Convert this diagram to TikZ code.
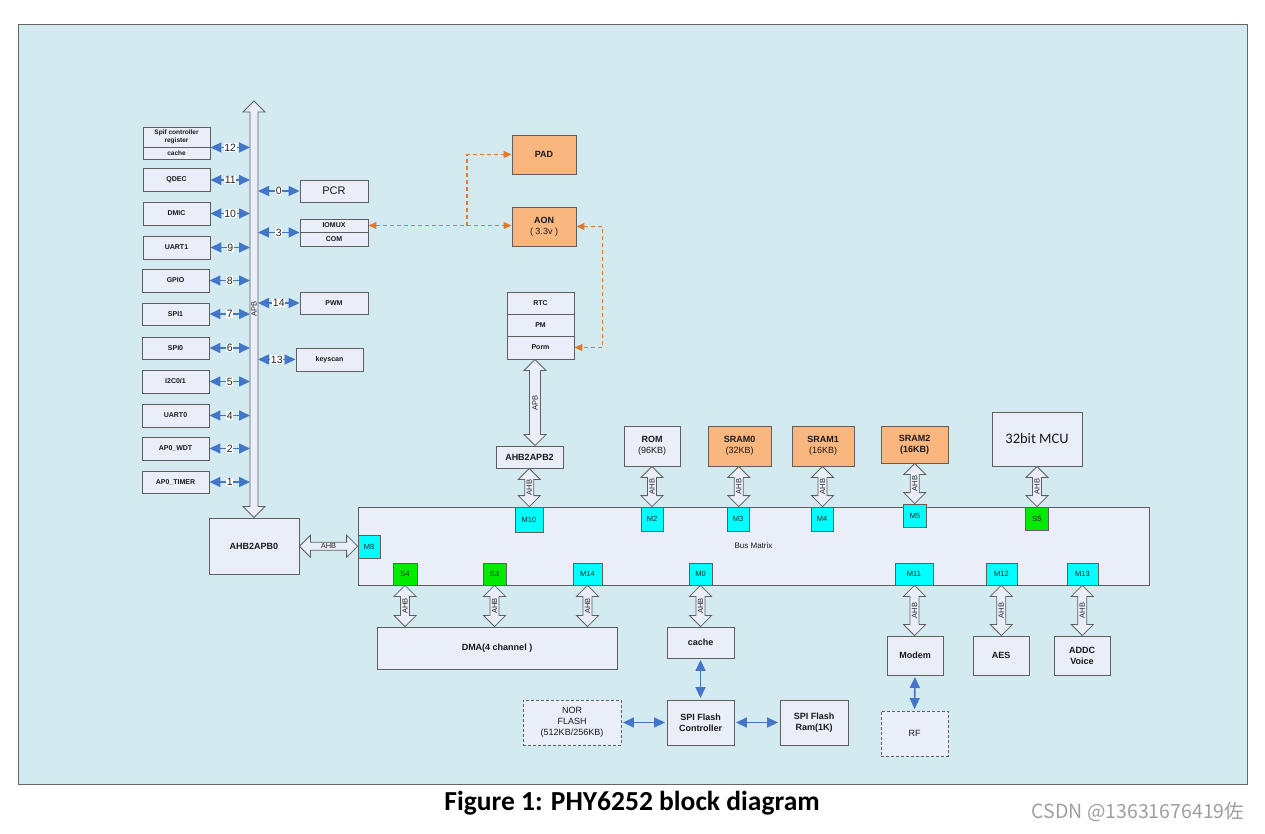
\documentclass[tikz,border=0pt]{standalone}
\usepackage{fontspec}
\setmainfont{Liberation Sans}
\newfontfamily\capfont{Carlito}
\newfontfamily\cjkfont{Noto Sans CJK SC}
\usetikzlibrary{arrows.meta,calc}

\definecolor{panelbg}{RGB}{211,234,240}
\definecolor{boxfill}{RGB}{233,238,248}
\definecolor{boxline}{RGB}{95,95,95}
\definecolor{memorange}{RGB}{249,182,127}
\definecolor{portcyan}{RGB}{0,255,255}
\definecolor{portgreen}{RGB}{0,235,0}
\definecolor{linkblue}{RGB}{68,118,200}
\definecolor{dashorange}{RGB}{224,122,48}

% hollow double arrows (AHB / APB), vertical and horizontal
\newcommand{\ahbv}[4][4.5pt]{%
  \path[hollow] let \p1=(#2), \p2=(#3) in
    ({(\x1+\x2)/2},\y1) -- ++(11pt,-11pt) -- ++({-11pt+#1},0pt)
    -- ({(\x1+\x2)/2+#1},{\y2+11pt}) -- ++({11pt-#1},0pt)
    -- ({(\x1+\x2)/2},\y2) -- ++(-11pt,11pt) -- ++({11pt-#1},0pt)
    -- ({(\x1+\x2)/2-#1},{\y1-11pt}) -- ++({-11pt+#1},0pt) -- cycle
    ({(\x1+\x2)/2},{(\y1+\y2)/2}) node[rotate=90, busfont] {#4};
}
\newcommand{\ahbh}[4][4pt]{%
  \path[hollow] let \p1=(#2), \p2=(#3) in
    (\x1,{(\y1+\y2)/2}) -- ++(11pt,11pt) -- ++(0pt,{-11pt+#1})
    -- ({\x2-11pt},{(\y1+\y2)/2+#1}) -- ++(0pt,{11pt-#1})
    -- (\x2,{(\y1+\y2)/2}) -- ++(-11pt,-11pt) -- ++(0pt,{11pt-#1})
    -- ({\x1+11pt},{(\y1+\y2)/2-#1}) -- ++(0pt,{-11pt+#1}) -- cycle
    ({(\x1+\x2)/2},{(\y1+\y2)/2}) node[busfont] {#4};
}

\begin{document}
\begin{tikzpicture}[x=1pt, y=-1pt, >={Triangle[length=11pt,width=10pt]},
  wh/.style 2 args={minimum width=#1pt, minimum height=#2pt},
  blk/.style={draw=boxline, fill=boxfill, line width=0.9pt, inner sep=0pt, align=center,
    text=black!90, font=\bfseries\fontsize{7}{8}\selectfont},
  mem/.style={blk, fill=memorange, font=\fontsize{9}{11}\selectfont},
  port/.style={draw=boxline, fill=portcyan, line width=0.8pt, inner sep=0pt,
    text=black!85, font=\fontsize{7.5}{8}\selectfont},
  sport/.style={port, fill=portgreen},
  ext/.style={blk, dashed, dash pattern=on 3pt off 2pt, font=\fontsize{9}{11}\selectfont},
  blink/.style={<->, draw=linkblue, line width=1.6pt},
  odash/.style={draw=dashorange, line width=1.1pt, dash pattern=on 4pt off 3pt,
    >={Triangle[length=8pt,width=7pt]}},
  num/.style={fill=white, inner sep=0.7pt, text=black!85, font=\fontsize{10.5}{10.5}\selectfont},
  hollow/.style={draw=boxline, fill=boxfill, line width=0.8pt},
  busfont/.style={inner sep=0.5pt, text=black!85, font=\fontsize{7.5}{7.5}\selectfont}]
  \useasboundingbox (0,0) rectangle (1265,833);
  \draw[draw=gray!80!black, fill=panelbg, line width=1pt] (18,24) rectangle (1247,784);

  % APB peripherals, left column
  \node[blk, wh={67}{20}, font=\bfseries\fontsize{6.5}{7.5}\selectfont] (spifreg) at (176.5,137) {Spif controller\\register};
  \node[blk, wh={67}{12}, font=\bfseries\fontsize{6.5}{7.5}\selectfont] (spifcache) at (176.5,153) {cache};
  \node[blk, wh={67}{23}] (qdec) at (176.5,180) {QDEC};
  \node[blk, wh={67}{23}] (dmic) at (176.5,213.5) {DMIC};
  \node[blk, wh={67}{23}] (uart1) at (176.5,247.5) {UART1};
  \node[blk, wh={67}{23}] (gpio) at (175.5,280.5) {GPIO};
  \node[blk, wh={67}{22}] (spi1) at (175.5,314) {SPI1};
  \node[blk, wh={67}{22}] (spi0) at (175.5,348) {SPI0};
  \node[blk, wh={67}{23}] (iic) at (175.5,381.5) {I2C0/1};
  \node[blk, wh={67}{23}] (uart0) at (175.5,415.5) {UART0};
  \node[blk, wh={67}{23}] (wdt) at (175.5,448.5) {AP0\_WDT};
  \node[blk, wh={67}{22}] (timer) at (175.5,482) {AP0\_TIMER};

  % APB peripherals, right of the bus
  \node[blk, wh={68}{22}, font=\fontsize{11}{11}\selectfont] (pcr) at (334,191) {PCR};
  \node[blk, wh={68}{13}] (iomux) at (334,225.5) {IOMUX};
  \node[blk, wh={68}{14}] (com) at (334,239) {COM};
  \node[blk, wh={68}{22}] (pwm) at (334,303) {PWM};
  \node[blk, wh={67}{23}] (keyscan) at (329.5,359.5) {keyscan};

  \node[blk, wh={90}{56}, font=\bfseries\fontsize{9}{10}\selectfont] (ahb2apb0) at (254,546) {AHB2APB0};

  % APB bus
  \coordinate (apbtip) at (254,101);
  \coordinate (busL) at (250,300);
  \coordinate (busR) at (258,300);
  \ahbv[4pt]{apbtip}{ahb2apb0.north}{APB}

  \draw[blink] (spifreg.south east) -- (spifreg.south east -| busL) node[midway,num] {12};
  \draw[blink] (qdec.east) -- (qdec.east -| busL) node[midway,num] {11};
  \draw[blink] (dmic.east) -- (dmic.east -| busL) node[midway,num] {10};
  \draw[blink] (uart1.east) -- (uart1.east -| busL) node[midway,num] {9};
  \draw[blink] (gpio.east) -- (gpio.east -| busL) node[midway,num] {8};
  \draw[blink] (spi1.east) -- (spi1.east -| busL) node[midway,num] {7};
  \draw[blink] (spi0.east) -- (spi0.east -| busL) node[midway,num] {6};
  \draw[blink] (iic.east) -- (iic.east -| busL) node[midway,num] {5};
  \draw[blink] (uart0.east) -- (uart0.east -| busL) node[midway,num] {4};
  \draw[blink] (wdt.east) -- (wdt.east -| busL) node[midway,num] {2};
  \draw[blink] (timer.east) -- (timer.east -| busL) node[midway,num] {1};

  \draw[blink] (pcr.west -| busR) -- (pcr.west) node[midway,num] {0};
  \draw[blink] (iomux.south west -| busR) -- (iomux.south west) node[midway,num] {3};
  \draw[blink] (pwm.west -| busR) -- (pwm.west) node[midway,num] {14};
  \draw[blink] (keyscan.west -| busR) -- (keyscan.west) node[midway,num] {13};

  % always-on domain
  \node[mem, wh={64}{39}, font=\bfseries\fontsize{9}{11}\selectfont] (pad) at (544,154.5) {PAD};
  \node[mem, wh={64}{39}] (aon) at (544,226.5) {\textbf{AON}\\( 3.3v )};
  \node[blk, wh={67}{22}] (rtc) at (540.5,303) {RTC};
  \node[blk, wh={67}{22}] (pm) at (540.5,325) {PM};
  \node[blk, wh={67}{23}] (porm) at (540.5,347.5) {Porm};

  \coordinate (padfork) at (467,226);
  \draw[odash,<->] (iomux.east) -- (iomux.east -| aon.west);
  \draw[odash,->] (padfork) |- (pad.west);
  \draw[odash,<->] (aon.east) -- ++(26,0) |- (porm.east);

  \node[blk, wh={67}{22}, font=\bfseries\fontsize{9}{10}\selectfont] (ahb2apb2) at (529.5,457) {AHB2APB2};
  \ahbv[5.5pt]{porm.south}{ahb2apb2.north}{APB}

  % memories and cpu
  \node[blk, wh={56}{40}, font=\fontsize{9}{11}\selectfont] (rom) at (652,446) {\textbf{ROM}\\(96KB)};
  \node[mem, wh={63}{40}] (sram0) at (739.5,446) {\textbf{SRAM0}\\(32KB)};
  \node[mem, wh={62}{40}] (sram1) at (823,446) {\textbf{SRAM1}\\(16KB)};
  \node[mem, wh={67}{37}, font=\bfseries\fontsize{9}{11}\selectfont] (sram2) at (914.5,444.5) {SRAM2\\(16KB)};
  \node[blk, wh={90}{54}, font=\capfont\fontsize{14.5}{14.5}\selectfont] (mcu) at (1037,439) {32bit MCU};

  % bus matrix and its ports
  \node[blk, wh={791}{78}, font=\fontsize{8}{8}\selectfont] (bus) at (753.5,546) {Bus Matrix};
  \node[port, wh={28}{25}] (m10) at (529,519.5) {M10};
  \node[port, wh={22}{24}] (m2) at (652,519) {M2};
  \node[port, wh={22}{24}] (m3) at (738,519) {M3};
  \node[port, wh={22}{24}] (m4) at (822,519) {M4};
  \node[port, wh={23}{23}] (m5) at (915,515.5) {M5};
  \node[sport, wh={23}{23}] (s5) at (1037,518.5) {S5};
  \node[port, wh={22}{23}] (m8) at (369,546.5) {M8};
  \node[sport, wh={24}{22}] (s4) at (405,574) {S4};
  \node[sport, wh={23}{22}] (s3) at (494.5,574) {S3};
  \node[port, wh={29}{22}] (m14) at (587.5,574) {M14};
  \node[port, wh={23}{22}] (m0) at (700.5,574) {M0};
  \node[port, wh={38}{22}] (m11) at (914,574) {M11};
  \node[port, wh={31}{22}] (m12) at (1001.5,574) {M12};
  \node[port, wh={31}{22}] (m13) at (1082.5,574) {M13};

  \ahbh{ahb2apb0.east}{m8.west}{AHB}
  \ahbv{ahb2apb2.south}{m10.north}{AHB}
  \ahbv{rom.south}{m2.north}{AHB}
  \ahbv{sram0.south}{m3.north}{AHB}
  \ahbv{sram1.south}{m4.north}{AHB}
  \ahbv{sram2.south}{m5.north}{AHB}
  \ahbv{mcu.south}{s5.north}{AHB}

  % bus masters and slaves below
  \node[blk, wh={240}{42}, font=\bfseries\fontsize{9}{10}\selectfont] (dma) at (497,648) {DMA(4 channel )};
  \node[blk, wh={67}{31}, font=\bfseries\fontsize{9}{10}\selectfont] (cache) at (700.5,642.5) {cache};
  \node[blk, wh={67}{45}, font=\bfseries\fontsize{9}{11}\selectfont] (spictl) at (700.5,722.5) {SPI Flash\\Controller};
  \node[ext, wh={98}{45}] (nor) at (572,722.5) {NOR\\FLASH\\(512KB/256KB)};
  \node[blk, wh={68}{45}, font=\bfseries\fontsize{9}{11}\selectfont] (spiram) at (814,722.5) {SPI Flash\\Ram(1K)};
  \node[blk, wh={56}{39}, font=\bfseries\fontsize{9}{10}\selectfont] (modem) at (915,655.5) {Modem};
  \node[blk, wh={56}{39}, font=\bfseries\fontsize{9}{10}\selectfont] (aes) at (1001,655.5) {AES};
  \node[blk, wh={56}{39}, font=\bfseries\fontsize{9}{11}\selectfont] (addc) at (1082,655.5) {ADDC\\Voice};
  \node[ext, wh={67}{45}] (rf) at (914.5,733.5) {RF};

  \ahbv{s4.south}{s4.south |- dma.north}{AHB}
  \ahbv{s3.south}{s3.south |- dma.north}{AHB}
  \ahbv{m14.south}{m14.south |- dma.north}{AHB}
  \ahbv{m0.south}{cache.north}{AHB}
  \ahbv{m11.south}{modem.north}{AHB}
  \ahbv{m12.south}{aes.north}{AHB}
  \ahbv{m13.south}{addc.north}{AHB}

  \draw[blink, shorten <=1.5pt, shorten >=1.5pt] (cache.south) -- (spictl.north);
  \draw[blink, shorten <=1.5pt, shorten >=1.5pt] (nor.east) -- (spictl.west);
  \draw[blink, shorten <=1.5pt, shorten >=1.5pt] (spictl.east) -- (spiram.west);
  \draw[blink, shorten <=1.5pt, shorten >=1.5pt] (modem.south) -- (rf.north);

  \node[font=\capfont\bfseries\fontsize{27.5}{27.5}\selectfont] (caption) at (632,803) {Figure 1: PHY6252 block diagram};
  \node[font=\cjkfont\fontsize{19.5}{19.5}\selectfont, text=gray!75] (mark) at (1138,812) {CSDN @13631676419佐};
\end{tikzpicture}
\end{document}
